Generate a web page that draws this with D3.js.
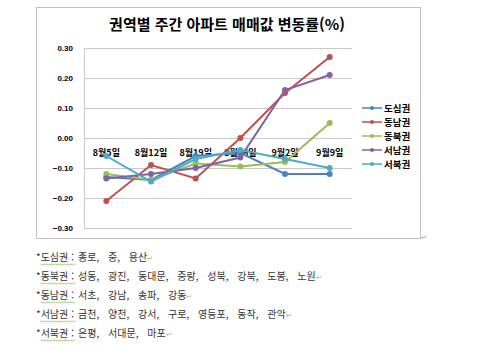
<!DOCTYPE html>
<html lang="ko">
<head>
<meta charset="UTF-8">
<script src="https://d3js.org/d3.v7.min.js"></script>
<title>권역별 주간 아파트 매매값 변동률</title>
<style>
  body { margin: 0; background: #fff; }
  svg text { font-family: "Noto Sans CJK KR", "Liberation Sans", sans-serif; }
</style>
</head>
<body>
<div id="chart"></div>
<script>
// data
let weeks = ["8월5일", "8월12일", "8월19일", "8월26일", "9월2일", "9월9일"];
let regions = ["도심권", "동남권", "동북권", "서남권", "서북권"];
let colors = ["#4F81BD", "#C0504D", "#9BBB59", "#8064A2", "#4BACC6"];
let dosim   = [-0.13, -0.14, -0.06, -0.05, -0.12, -0.12];
let dongnam = [-0.21, -0.09, -0.135, 0.00, 0.15, 0.27];
let dongbuk = [-0.12, -0.14, -0.085, -0.095, -0.08, 0.05];
let seonam  = [-0.135, -0.12, -0.10, -0.065, 0.16, 0.21];
let seobuk  = [-0.06, -0.145, -0.07, -0.04, -0.07, -0.10];
let yTicks = [0.30, 0.20, 0.10, 0.00, -0.10, -0.20, -0.30];
let notes = [
  ["도심권", "종로, 중, 용산"],
  ["동북권", "성동, 광진, 동대문, 중랑, 성북, 강북, 도봉, 노원"],
  ["동남권", "서초, 강남, 송파, 강동"],
  ["서남권", "금천, 양천, 강서, 구로, 영등포, 동작, 관악"],
  ["서북권", "은평, 서대문, 마포"]
];

let series = [dosim, dongnam, dongbuk, seonam, seobuk];

let width = 492, height = 351;
let svg = d3.select("#chart").append("svg")
  .attr("width", width).attr("height", height);

// chart frame
svg.append("rect")
  .attr("x", 36.5).attr("y", 7.5).attr("width", 384).attr("height", 231)
  .attr("fill", "#fff").attr("stroke", "#bfbfbf").attr("stroke-width", 1);

svg.append("text")
  .attr("x", 227).attr("y", 30)
  .attr("text-anchor", "middle")
  .style("font-size", "15px").style("font-weight", "bold")
  .text("권역별 주간 아파트 매매값 변동률(%)");

let plot = {left: 84, right: 352, top: 48, bottom: 228};

let x = d3.scaleBand().domain(weeks).range([plot.left, plot.right]);
let y = d3.scaleLinear().domain([-0.3, 0.3]).range([plot.bottom, plot.top]);

// grid lines
svg.append("g").selectAll("line")
  .data(yTicks).enter().append("line")
  .attr("x1", plot.left).attr("x2", plot.right)
  .attr("y1", d => Math.round(y(d)) + 0.5).attr("y2", d => Math.round(y(d)) + 0.5)
  .attr("stroke", "#c8c8c8").attr("stroke-width", 1);

// y axis
let yAxis = svg.append("g")
  .attr("transform", "translate(" + plot.left + ",0)")
  .call(d3.axisLeft(y).tickValues(yTicks).tickFormat(d3.format(".2f")).tickSize(0).tickPadding(11));
yAxis.select(".domain").attr("stroke", "#c8c8c8");
yAxis.selectAll("text")
  .style("font-family", "'Liberation Sans', sans-serif")
  .style("font-size", "8px").style("font-weight", "bold").attr("fill", "#000");

// category labels sit just under the zero line
let xAxis = svg.append("g")
  .attr("transform", "translate(0," + y(0) + ")")
  .call(d3.axisBottom(x).tickSize(0).tickPadding(12));
xAxis.select(".domain").remove();
xAxis.selectAll("text")
  .style("font-size", "9px").style("font-weight", "bold").attr("fill", "#000");

// lines and markers
let line = d3.line()
  .x((d, i) => x(weeks[i]) + x.bandwidth() / 2)
  .y(d => y(d));

series.forEach(function(vals, k) {
  svg.append("path")
    .datum(vals)
    .attr("d", line)
    .attr("fill", "none")
    .attr("stroke", colors[k])
    .attr("stroke-width", 2);
  svg.selectAll(".m" + k)
    .data(vals).enter().append("circle")
    .attr("cx", (d, i) => x(weeks[i]) + x.bandwidth() / 2)
    .attr("cy", d => y(d))
    .attr("r", 3)
    .attr("fill", colors[k]);
});

// legend
let legend = svg.append("g");
regions.forEach(function(name, k) {
  let ly = 108 + k * 14;
  legend.append("line")
    .attr("x1", 362).attr("x2", 382).attr("y1", ly).attr("y2", ly)
    .attr("stroke", colors[k]).attr("stroke-width", 1.5);
  legend.append("circle")
    .attr("cx", 372).attr("cy", ly).attr("r", 2).attr("fill", colors[k]);
  legend.append("text")
    .attr("x", 384).attr("y", ly + 3.5)
    .style("font-size", "9.5px").style("font-weight", "bold")
    .text(name);
});

// paragraph mark after the chart
svg.append("text")
  .attr("x", 421).attr("y", 240)
  .style("font-size", "7px").attr("fill", "#999").text("↵");

// notes below
notes.forEach(function(n, i) {
  let ny = 261 + i * 19;
  let t = svg.append("text")
    .attr("x", 36).attr("y", ny)
    .style("font-size", "10px")
    .attr("fill", "#333");
  t.append("tspan").text("*");
  let nameSpan = t.append("tspan").text(n[0]);
  t.append("tspan").attr("dx", 3).text(":");
  t.append("tspan").attr("dx", 4).style("word-spacing", "6px").text(n[1]);
  t.append("tspan").attr("fill", "#aaa").style("font-size", "7px").text("↵");

  // green wavy underline under the region name
  let nodeBox = nameSpan.node();
  let start = nodeBox.getStartPositionOfChar(0).x;
  let end = nodeBox.getEndPositionOfChar(n[0].length - 1).x + 7;
  let pts = [];
  for (let px = start; px <= end; px += 1.5) {
    pts.push([px, ny + 3 + ((Math.round((px - start) / 1.5) % 2) ? 1 : 0)]);
  }
  svg.append("path")
    .attr("d", d3.line()(pts))
    .attr("fill", "none").attr("stroke", "#7fbf5f").attr("stroke-width", 0.8);
});
</script>
</body>
</html>
